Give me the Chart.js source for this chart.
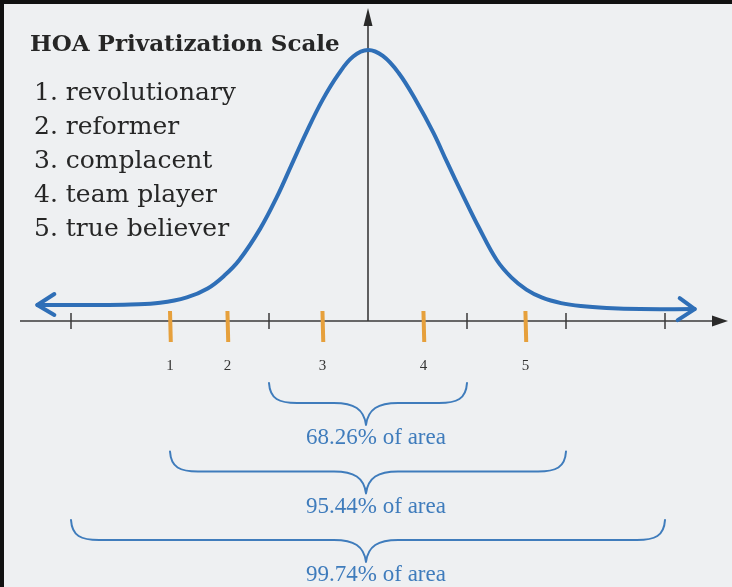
<!DOCTYPE html>
<html>
<head>
<meta charset="utf-8">
<script src="https://cdn.jsdelivr.net/npm/chart.js@4/dist/chart.umd.min.js"></script>
<style>
  html, body { margin: 0; padding: 0; background: #eef0f2; }
  #wrap { width: 732px; height: 587px; position: relative; }
</style>
</head>
<body>
<div id="wrap"><canvas id="c" width="732" height="587"></canvas></div>
<script>
// ---- data (x in standard deviations, y relative height, peak = 100) ----
const curveX = [-3.34, -2.71, -2.40, -2.10, -1.83, -1.62, -1.45, -1.30, -1.09, -0.92, -0.77, -0.62, -0.46, -0.30, -0.15, 0.00, 0.15, 0.31, 0.49, 0.66, 0.80, 0.96, 1.12, 1.30, 1.45, 1.60, 1.76, 1.95, 2.15, 2.41, 2.75, 3.30];
const curveY = [5.9, 5.9, 6.1, 6.7, 8.7, 12.0, 16.8, 22.5, 34.0, 45.8, 57.8, 69.8, 81.5, 91.0, 97.6, 100, 97.8, 91.5, 81.0, 69.5, 58.5, 46.3, 34.5, 22.5, 16.0, 11.6, 8.6, 6.6, 5.5, 4.8, 4.4, 4.4];
const axisTicks = [-3, -1, 1, 2, 3];
const markerPositions = [-2.0, -1.42, -0.46, 0.56, 1.59];
const markerLabels = ['1', '2', '3', '4', '5'];
const bracketRanges = [[-1, 1], [-2, 2], [-3, 3]];
const bracketLabels = ['68.26% of area', '95.44% of area', '99.74% of area'];
const scaleTitle = 'HOA Privatization Scale';
const scaleItems = ['1. revolutionary', '2. reformer', '3. complacent', '4. team player', '5. true believer'];

const points = curveX.map((x, i) => ({ x: x, y: curveY[i] }));

const SLAB = '"DejaVu Serif", serif';
const SERIF = '"Liberation Serif", "Times New Roman", serif';

const decor = {
  id: 'decor',
  beforeDraw(chart) {
    const ctx = chart.ctx;
    ctx.save();
    ctx.fillStyle = '#eef0f2';
    ctx.fillRect(0, 0, chart.width, chart.height);
    ctx.fillStyle = '#111';
    ctx.fillRect(0, 0, chart.width, 4);
    ctx.fillRect(0, 0, 4, chart.height);
    ctx.restore();
  },
  beforeDatasetsDraw(chart) {
    const ctx = chart.ctx;
    const xs = chart.scales.x, ys = chart.scales.y;
    const y0 = ys.getPixelForValue(0);
    const x0 = xs.getPixelForValue(0);
    ctx.save();
    ctx.strokeStyle = '#3a3a3a';
    ctx.fillStyle = '#2a2a2a';
    ctx.lineWidth = 1.6;
    ctx.beginPath();
    ctx.moveTo(20, y0);
    ctx.lineTo(716, y0);
    ctx.stroke();
    ctx.beginPath();
    ctx.moveTo(728, y0);
    ctx.lineTo(712, y0 - 5.5);
    ctx.lineTo(712, y0 + 5.5);
    ctx.closePath();
    ctx.fill();
    ctx.beginPath();
    ctx.moveTo(x0, y0);
    ctx.lineTo(x0, 20);
    ctx.stroke();
    ctx.beginPath();
    ctx.moveTo(x0, 8);
    ctx.lineTo(x0 - 4.5, 26);
    ctx.lineTo(x0 + 4.5, 26);
    ctx.closePath();
    ctx.fill();
    ctx.lineWidth = 1.5;
    axisTicks.forEach(t => {
      const px = xs.getPixelForValue(t);
      ctx.beginPath();
      ctx.moveTo(px, y0 - 8);
      ctx.lineTo(px, y0 + 8);
      ctx.stroke();
    });
    ctx.strokeStyle = '#e6a03c';
    ctx.lineWidth = 4;
    ctx.lineCap = 'butt';
    markerPositions.forEach(m => {
      const px = xs.getPixelForValue(m);
      ctx.beginPath();
      ctx.moveTo(px, y0 - 10);
      ctx.lineTo(px + 0.8, y0 + 21);
      ctx.stroke();
    });
    ctx.fillStyle = '#333';
    ctx.font = '15px ' + SERIF;
    ctx.textAlign = 'center';
    ctx.textBaseline = 'middle';
    markerPositions.forEach((m, i) => {
      ctx.fillText(markerLabels[i], xs.getPixelForValue(m), y0 + 45);
    });
    ctx.restore();
  },
  afterDatasetsDraw(chart) {
    const ctx = chart.ctx;
    const xs = chart.scales.x, ys = chart.scales.y;
    const y0 = ys.getPixelForValue(0);
    const meta = chart.getDatasetMeta(0);
    const first = meta.data[0];
    const last = meta.data[meta.data.length - 1];
    ctx.save();
    ctx.strokeStyle = '#2f6fb7';
    ctx.lineWidth = 4;
    ctx.lineCap = 'round';
    ctx.lineJoin = 'round';
    ctx.beginPath();
    ctx.moveTo(first.x + 17, first.y - 11);
    ctx.lineTo(first.x, first.y);
    ctx.lineTo(first.x + 17, first.y + 10);
    ctx.stroke();
    ctx.beginPath();
    ctx.moveTo(last.x - 15, last.y - 11);
    ctx.lineTo(last.x, last.y);
    ctx.lineTo(last.x - 17, last.y + 11);
    ctx.stroke();

    ctx.strokeStyle = '#3f7cbc';
    ctx.lineWidth = 2;
    ctx.lineCap = 'round';
    bracketRanges.forEach((r, i) => {
      const xl = xs.getPixelForValue(r[0]);
      const xr = xs.getPixelForValue(r[1]);
      const cx = (xl + xr) / 2 - 2;
      const top = y0 + 62 + i * 68.5;
      const mid = top + 20;
      const tip = top + 42;
      ctx.beginPath();
      ctx.moveTo(xl, top);
      ctx.bezierCurveTo(xl + 1, mid - 4, xl + 10, mid, xl + 28, mid);
      ctx.lineTo(cx - 32, mid);
      ctx.bezierCurveTo(cx - 12, mid, cx - 2, mid + 6, cx, tip);
      ctx.bezierCurveTo(cx + 2, mid + 6, cx + 12, mid, cx + 32, mid);
      ctx.lineTo(xr - 28, mid);
      ctx.bezierCurveTo(xr - 10, mid, xr - 1, mid - 4, xr, top);
      ctx.stroke();
      ctx.fillStyle = '#3f7cbc';
      ctx.font = '23px ' + SERIF;
      ctx.textAlign = 'center';
      ctx.textBaseline = 'middle';
      ctx.fillText(bracketLabels[i], cx + 10, tip + 13);
    });

    ctx.fillStyle = '#262626';
    ctx.textAlign = 'left';
    ctx.textBaseline = 'middle';
    ctx.font = 'bold 23px ' + SLAB;
    ctx.fillText(scaleTitle, 30, 45);
    ctx.font = '25px ' + SLAB;
    scaleItems.forEach((s, i) => {
      ctx.fillText(s, 34, 93 + i * 34);
    });
    ctx.restore();
  }
};

new Chart(document.getElementById('c'), {
  type: 'line',
  data: {
    datasets: [{
      data: points,
      borderColor: '#2f6fb7',
      borderWidth: 4,
      pointRadius: 0,
      fill: false,
      tension: 0.4,
      borderCapStyle: 'round'
    }]
  },
  options: {
    responsive: false,
    animation: false,
    layout: { padding: { left: 21.5, right: 7.6, top: 9.35, bottom: 8.55 } },
    plugins: { legend: { display: false }, tooltip: { enabled: false }, title: { display: false } },
    scales: {
      x: { type: 'linear', min: -3.5, max: 3.6, display: false },
      y: { type: 'linear', min: -95, max: 115, display: false }
    }
  },
  plugins: [decor]
});
</script>
</body>
</html>
